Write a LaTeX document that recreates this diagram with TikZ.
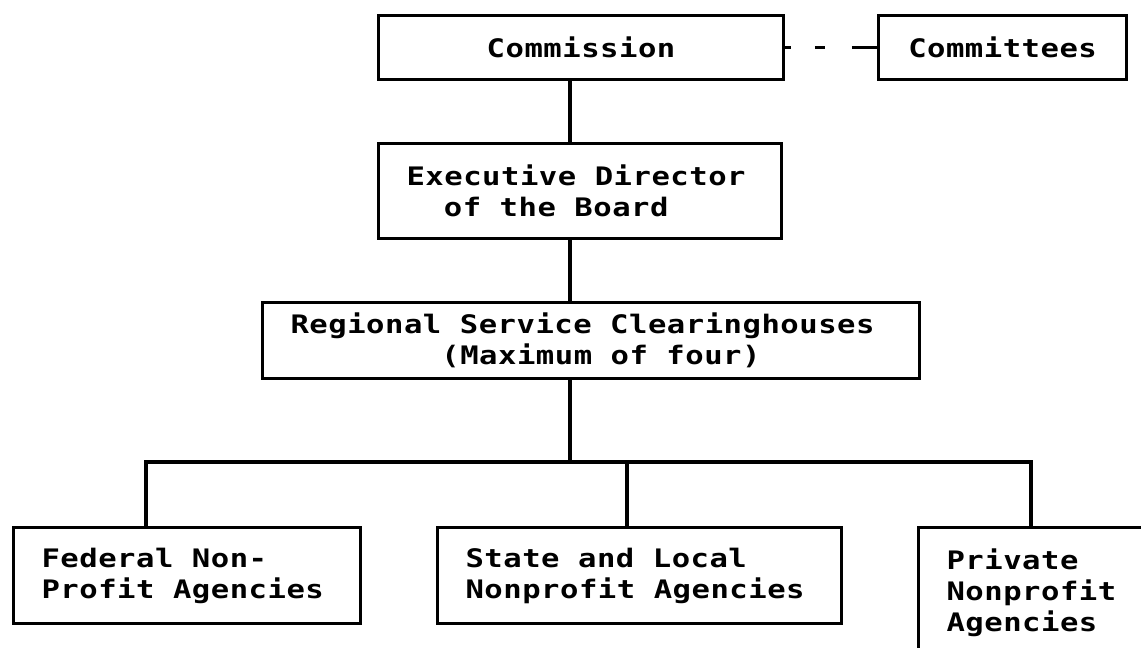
\documentclass[tikz,border=0pt]{standalone}
\usepackage{fontspec}
\newfontfamily\chartfont{DejaVu Sans Mono}[FakeStretch=1.2,LetterSpace=2]
\newcommand\chartstyle{\chartfont\bfseries\fontsize{14.5pt}{17.6pt}\selectfont}
\newcommand\wsp{\hspace{0.37cm}}
\usetikzlibrary{positioning}

\begin{document}
\begin{tikzpicture}[x=0.02cm, y=-0.02cm, line width=1.8pt, font=\chartstyle]
\tikzstyle{block}=[draw=black, rectangle, anchor=north west, inner xsep=0.56cm, inner ysep=0pt, align=left]
\tikzstyle{dotted link}=[dash pattern=on 3.4pt off 13.6pt on 5.7pt off 15.3pt on 30pt]

\useasboundingbox (0,0) rectangle (1141,648);
\clip (0,0) rectangle (1141,648);

% top of the chart
\node[block, minimum width=8.1cm, minimum height=1.28cm, align=center] (comm) at (377,14) {Commission};
\node[block, minimum width=4.96cm, minimum height=1.28cm, align=center] (cmte) at (877,14) {Committees};
\node[block, text width=6.94cm, minimum height=1.9cm] (exec) at (377,142) {Executive\wsp Director\\\hphantom{xx}of\wsp the\wsp Board};
\node[block, text width=12.02cm, minimum height=1.52cm] (reg) at (261,301) {Regional\wsp Service\wsp Clearinghouses\\\hphantom{xxxxxxxx}(Maximum\wsp of\wsp four)};

% agencies
\node[block, text width=5.82cm, minimum height=1.92cm] (fed) at (12,526) {Federal\wsp Non-\\Profit\wsp Agencies};
\node[block, text width=6.96cm, minimum height=1.92cm] (state) at (436,526) {State\wsp and\wsp Local\\Nonprofit\wsp Agencies};
\node[block, text width=3.68cm, minimum height=2.6cm] (priv) at (917,526) {Private\\Nonprofit\\Agencies};

\coordinate (trunk) at (570,462);
\coordinate (dropfed) at (146,462);
\coordinate (dropstate) at (627,462);
\coordinate (droppriv) at (1031,462);

\draw[dotted link] (comm.east) -- (cmte.west);
\draw (comm.south -| trunk) -- (exec.north -| trunk);
\draw (exec.south -| trunk) -- (reg.north -| trunk);
\draw (reg.south -| trunk) -- (trunk);
\draw (fed.north -| dropfed) -- (dropfed) -- (droppriv) -- (priv.north -| droppriv);
\draw (dropstate) -- (state.north -| dropstate);
\end{tikzpicture}
\end{document}
